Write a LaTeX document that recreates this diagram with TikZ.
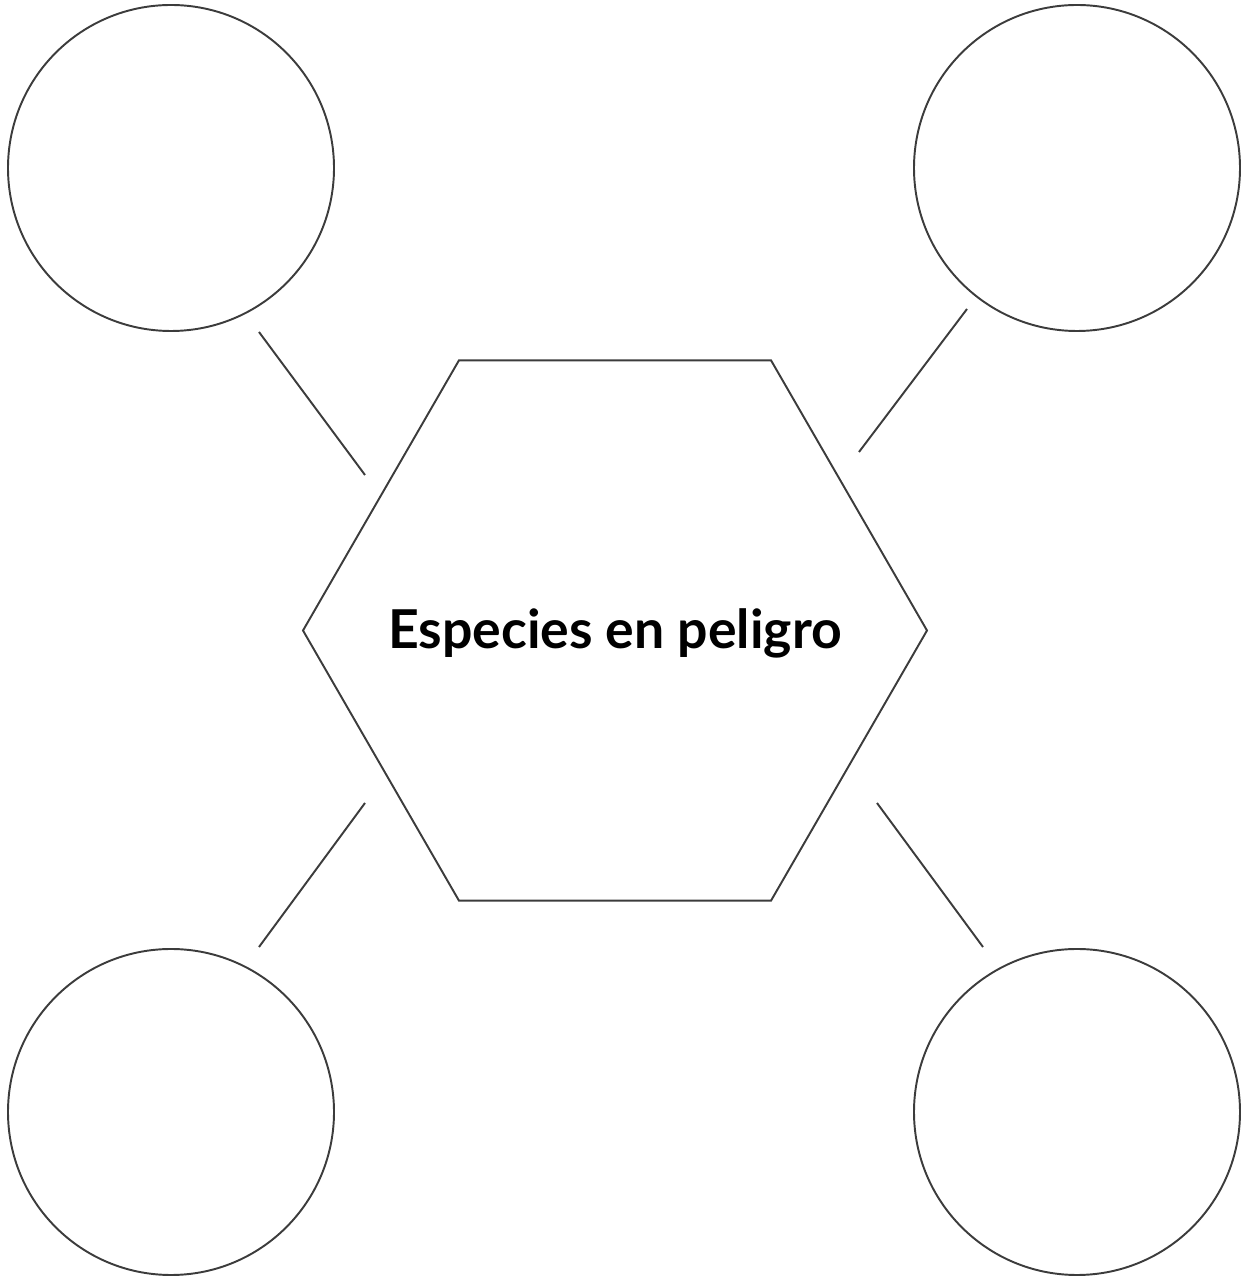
\documentclass[tikz,border=0pt]{standalone}
\usepackage{fontspec}
\setmainfont{Lato}
\usepackage{tikz}
\usetikzlibrary{shapes.geometric,positioning}
\definecolor{wsgray}{HTML}{3C3C3C}

\begin{document}
\begin{tikzpicture}[
  bubble/.style={circle, draw=wsgray, line width=1.1pt, minimum size=6.52cm, inner sep=0pt},
  hexa/.style={regular polygon, regular polygon sides=6, draw=wsgray, line width=1.1pt,
               minimum size=12.48cm, inner sep=0pt},
  title/.style={font=\fontsize{30.5}{36}\selectfont\bfseries, inner sep=0pt},
  link/.style={draw=wsgray, line width=1.1pt}
]
\useasboundingbox (0,0) rectangle (25.02,25.56);

% ── Centre ────────────────────────────────────────────────────
\node[hexa] (hex) at (12.3,12.95) {};
\node[title] (name) at ([yshift=-0.05cm]hex.center) {Especies en peligro};

% ── Bubbles ───────────────────────────────────────────────────
\node[bubble] (tl) at (3.42,22.2) {};
\node[bubble] (tr) at (21.54,22.2) {};
\node[bubble] (bl) at (3.42,3.32) {};
\node[bubble] (br) at (21.54,3.32) {};

% ── Link ends ─────────────────────────────────────────────────
\coordinate (tl-a) at (5.18,18.92);  \coordinate (tl-b) at (7.30,16.06);
\coordinate (tr-a) at (19.34,19.38); \coordinate (tr-b) at (17.18,16.52);
\coordinate (bl-a) at (5.18,6.62);   \coordinate (bl-b) at (7.30,9.50);
\coordinate (br-a) at (19.66,6.62);  \coordinate (br-b) at (17.54,9.50);

% ── Links ─────────────────────────────────────────────────────
\draw[link] (tl-a) -- (tl-b);
\draw[link] (tr-a) -- (tr-b);
\draw[link] (bl-a) -- (bl-b);
\draw[link] (br-a) -- (br-b);
\end{tikzpicture}
\end{document}
